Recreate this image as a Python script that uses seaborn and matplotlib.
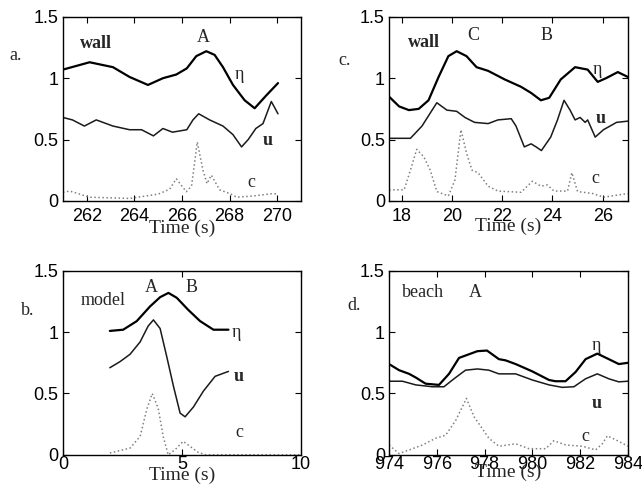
import numpy as np
import pandas as pd
import matplotlib
matplotlib.use("Agg")
import matplotlib.pyplot as plt
import seaborn as sns

# ---- data: panel a (wall) ----
a_eta_t = [261.0, 262.12, 263.1, 263.8, 264.57, 265.2, 265.76, 266.2, 266.6, 267.02, 267.37,
           267.72, 268.14, 268.63, 269.05, 269.54, 270.03]
a_eta = [1.07, 1.13, 1.09, 1.01, 0.945, 1.00, 1.03, 1.08, 1.18, 1.22, 1.19,
         1.09, 0.945, 0.82, 0.755, 0.86, 0.96]
a_u_t = [261.0, 261.4, 261.9, 262.4, 263.1, 263.8, 264.3, 264.8, 265.2, 265.6, 266.2, 266.46,
         266.7, 267.16, 267.72, 268.14, 268.5, 268.78, 269.1, 269.4, 269.75, 270.03]
a_u = [0.68, 0.66, 0.61, 0.66, 0.61, 0.58, 0.58, 0.53, 0.59, 0.56, 0.58, 0.66,
       0.71, 0.66, 0.61, 0.54, 0.44, 0.50, 0.59, 0.63, 0.81, 0.71]
a_c_t = [261.0, 261.28, 261.55, 262.1, 263.8, 265.0, 265.48, 265.76, 266.18, 266.4, 266.64,
         266.88, 267.05, 267.23, 267.58, 268.0, 268.3, 269.0, 269.83, 270.0]
a_c = [0.07, 0.08, 0.065, 0.03, 0.02, 0.055, 0.095, 0.18, 0.075, 0.12, 0.48,
       0.25, 0.14, 0.21, 0.09, 0.06, 0.03, 0.04, 0.06, 0.055]

# ---- data: panel b (model) ----
b_eta_t = [1.97, 2.53, 3.1, 3.66, 4.08, 4.43, 4.78, 5.27, 5.76, 6.32, 6.95]
b_eta = [1.01, 1.02, 1.09, 1.21, 1.285, 1.32, 1.28, 1.18, 1.09, 1.02, 1.02]
b_u_t = [1.97, 2.4, 2.82, 3.24, 3.58, 3.8, 4.08, 4.36, 4.64, 4.92, 5.13, 5.48, 5.9, 6.39, 6.95]
b_u = [0.71, 0.76, 0.82, 0.92, 1.05, 1.10, 1.03, 0.80, 0.56, 0.34, 0.31, 0.39, 0.52, 0.64, 0.68]
b_c_t = [1.97, 2.82, 3.24, 3.52, 3.75, 4.0, 4.21, 4.42, 4.7, 5.05, 5.33, 5.68, 6.0, 10.0]
b_c = [0.015, 0.055, 0.15, 0.37, 0.50, 0.38, 0.15, 0.0, 0.04, 0.11, 0.07, 0.02, 0.0, 0.0]

# ---- data: panel c (wall) ----
c_eta_t = [17.5, 17.9, 18.29, 18.68, 19.07, 19.47, 19.86, 20.19, 20.58, 20.98, 21.44, 22.1, 22.75,
           23.15, 23.54, 23.87, 24.33, 24.9, 25.4, 25.8, 26.13, 26.6, 27.0]
c_eta = [0.85, 0.77, 0.74, 0.75, 0.82, 1.01, 1.18, 1.22, 1.18, 1.09, 1.06, 0.99, 0.93,
         0.88, 0.82, 0.84, 0.99, 1.09, 1.07, 0.97, 1.00, 1.05, 1.01]
c_u_t = [17.5, 18.35, 18.81, 19.4, 19.8, 20.19, 20.52, 20.9, 21.44, 21.83, 22.36, 22.55, 22.88,
         23.15, 23.35, 23.56, 23.93, 24.2, 24.46, 24.7, 24.9, 25.1, 25.3, 25.4, 25.7, 26.03,
         26.55, 27.0]
c_u = [0.51, 0.51, 0.61, 0.80, 0.74, 0.73, 0.68, 0.64, 0.63, 0.66, 0.67, 0.61, 0.44,
       0.465, 0.44, 0.41, 0.52, 0.66, 0.82, 0.74, 0.66, 0.68, 0.64, 0.66, 0.52, 0.58,
       0.64, 0.65]
c_c_t = [17.5, 18.1, 18.35, 18.6, 18.88, 19.14, 19.4, 19.86, 20.12, 20.36, 20.58, 20.8, 21.04,
         21.44, 21.83, 22.75, 23.2, 23.54, 23.8, 24.06, 24.6, 24.77, 25.0, 25.6, 26.03, 27.0]
c_c = [0.09, 0.09, 0.25, 0.42, 0.36, 0.25, 0.076, 0.04, 0.17, 0.58, 0.39, 0.25, 0.23,
       0.12, 0.08, 0.07, 0.16, 0.12, 0.13, 0.08, 0.08, 0.23, 0.076, 0.06, 0.03, 0.06]

# ---- data: panel d (beach) ----
d_eta_t = [974.0, 974.42, 974.84, 975.12, 975.53, 976.09, 976.51, 976.93, 977.35, 977.7, 978.1,
           978.6, 978.88, 979.3, 980.0, 980.7, 980.97, 981.39, 981.81, 982.23, 982.72, 983.2,
           983.62, 984.0]
d_eta = [0.74, 0.69, 0.66, 0.63, 0.58, 0.57, 0.66, 0.79, 0.82, 0.845, 0.85,
         0.78, 0.77, 0.74, 0.68, 0.61, 0.60, 0.60, 0.675, 0.78, 0.825, 0.78, 0.74, 0.75]
d_u_t = [974.0, 974.56, 975.12, 975.81, 976.3, 976.72, 977.2, 977.7, 978.18, 978.6, 979.3, 980.0,
         980.7, 981.25, 981.74, 982.23, 982.72, 983.2, 983.62, 984.0]
d_u = [0.60, 0.60, 0.57, 0.555, 0.555, 0.62, 0.69, 0.70, 0.69, 0.66, 0.66, 0.61,
       0.57, 0.55, 0.555, 0.62, 0.66, 0.62, 0.595, 0.60]
d_c_t = [974.0, 974.42, 974.84, 975.4, 975.95, 976.37, 976.79, 977.24, 977.56, 977.9, 978.18,
         978.6, 979.3, 979.86, 980.56, 980.9, 981.4, 982.1, 982.65, 982.93, 983.14, 983.62, 984.0]
d_c = [0.08, 0.01, 0.04, 0.08, 0.135, 0.16, 0.28, 0.46, 0.31, 0.215, 0.135,
       0.07, 0.09, 0.05, 0.05, 0.115, 0.08, 0.07, 0.04, 0.09, 0.155, 0.11, 0.07]

y_ticks = [0, 0.5, 1, 1.5]
y_ticklabels = ["0", "0.5", "1", "1.5"]

sns.set_style("ticks")
plt.rcParams["font.family"] = ["Liberation Sans", "DejaVu Sans"]

SERIF = ["Liberation Serif", "DejaVu Serif"]

fig = plt.figure(figsize=(6.42, 4.96), dpi=100)
AX_H_PX = 0.371 * 496

panels = [
    dict(rect=[0.098, 0.595, 0.371, 0.371], xlim=(261, 271), xticks=[262, 264, 266, 268, 270],
         eta=(a_eta_t, a_eta), u=(a_u_t, a_u), c=(a_c_t, a_c), tpad=5.0, lab_off=27,
         texts=[("wall", 261.7, 1.28, True), ("A", 266.9, 1.33, False), ("η", 268.4, 1.03, False),
                ("u", 269.6, 0.49, True), ("c", 268.9, 0.15, False)],
         label=("a.", 0.025, 0.889)),
    dict(rect=[0.606, 0.595, 0.372, 0.371], xlim=(17.5, 27), xticks=[18, 20, 22, 24, 26],
         eta=(c_eta_t, c_eta), u=(c_u_t, c_u), c=(c_c_t, c_c), tpad=5.0, lab_off=25,
         texts=[("wall", 18.27, 1.29, True), ("C", 20.85, 1.35, False), ("B", 23.75, 1.35, False),
                ("η", 25.8, 1.07, False), ("u", 25.9, 0.67, True), ("c", 25.7, 0.18, False)],
         label=("c.", 0.536, 0.879)),
    dict(rect=[0.098, 0.083, 0.371, 0.371], xlim=(0, 10), xticks=[0, 5, 10],
         eta=(b_eta_t, b_eta), u=(b_u_t, b_u), c=(b_c_t, b_c), tpad=1.0, lab_off=21,
         texts=[("model", 0.74, 1.26, False), ("A", 3.72, 1.36, False), ("B", 5.4, 1.36, False),
                ("η", 7.3, 1.0, False), ("u", 7.4, 0.64, True), ("c", 7.4, 0.18, False)],
         label=("b.", 0.043, 0.373)),
    dict(rect=[0.606, 0.083, 0.372, 0.371], xlim=(974, 984), xticks=[974, 976, 978, 980, 982, 984],
         eta=(d_eta_t, d_eta), u=(d_u_t, d_u), c=(d_c_t, d_c), tpad=1.0, lab_off=18,
         texts=[("beach", 974.56, 1.32, False), ("A", 977.6, 1.32, False), ("η", 982.7, 0.89, False),
                ("u", 982.7, 0.42, True), ("c", 982.2, 0.15, False)],
         label=("d.", 0.552, 0.385)),
]

for p in panels:
    ax = fig.add_axes(p["rect"])
    t, v = p["c"]
    sns.lineplot(x=t, y=v, ax=ax, color="#808080", lw=1.1, linestyle=":", estimator=None, sort=False)
    t, v = p["u"]
    sns.lineplot(x=t, y=v, ax=ax, color="#1a1a1a", lw=1.1, estimator=None, sort=False)
    t, v = p["eta"]
    sns.lineplot(x=t, y=v, ax=ax, color="black", lw=1.6, estimator=None, sort=False)
    ax.set_xlim(*p["xlim"])
    ax.set_ylim(0, 1.5)
    ax.set_xticks(p["xticks"])
    ax.set_xticklabels([str(x) for x in p["xticks"]])
    ax.set_yticks(y_ticks)
    ax.set_yticklabels(y_ticklabels)
    ax.tick_params(direction="in", length=4, width=0.8, top=True, right=True,
                   labelsize=13, pad=3, colors="black")
    ax.tick_params(axis="x", pad=p["tpad"])
    for s in ax.spines.values():
        s.set_visible(True)
        s.set_color("black")
        s.set_linewidth(1.0)
    ax.set_ylabel("")
    ax.set_xlabel("Time (s)", family=SERIF, fontsize=14)
    ax.xaxis.label.set_va("center")
    ax.xaxis.set_label_coords(0.5, -p["lab_off"] / AX_H_PX)
    for txt, x, y, bold in p["texts"]:
        ha = "left" if txt in ("wall", "model", "beach") else "center"
        ax.text(x, y, txt, family=SERIF, fontsize=13, ha=ha, va="center",
                fontweight="bold" if bold else "normal")
    lab, fx, fy = p["label"]
    fig.text(fx, fy, lab, family=SERIF, fontsize=13, ha="center", va="center")

fig.savefig("out.png", dpi=100)
